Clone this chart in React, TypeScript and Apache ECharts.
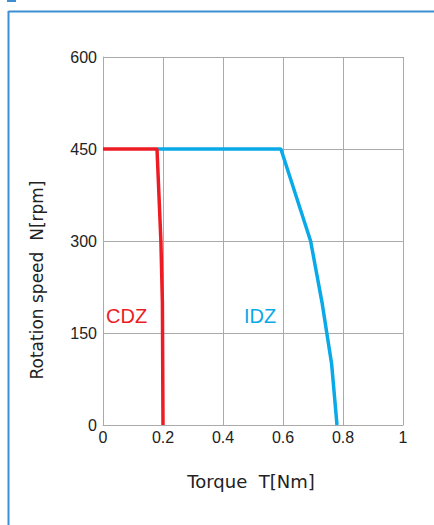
import React, { useEffect, useRef } from "react";
import * as echarts from "echarts";

const xTicks = [0, 0.2, 0.4, 0.6, 0.8, 1];
const yTicks = [0, 150, 300, 450, 600];
const cdzTorque = [0, 0.18, 0.193, 0.198, 0.2];
const cdzSpeed = [450, 450, 300, 200, 0];
const idzTorque = [0.18, 0.593, 0.692, 0.73, 0.762, 0.78];
const idzSpeed = [450, 450, 300, 200, 100, 0];
const seriesNames = ["CDZ", "IDZ"];

export default function App() {
  const ref = useRef<HTMLDivElement>(null);
  useEffect(() => {
    document.body.style.margin = "0";
    const chart = echarts.init(ref.current!, null, { renderer: "svg" });
    const red = "#ed1c24";
    const blue = "#0aa9e8";
    const grey = "#aaaaaa";
    const tickFont = "'Liberation Sans', Arial, sans-serif";
    const nameFont = "'DejaVu Sans', sans-serif";
    chart.setOption({
      animation: false,
      backgroundColor: "#ffffff",
      grid: { left: 103, top: 57, width: 300, height: 368, containLabel: false },
      xAxis: {
        type: "value",
        min: xTicks[0],
        max: xTicks[xTicks.length - 1],
        interval: 0.2,
        axisLine: { show: true, lineStyle: { color: grey, width: 1 } },
        axisTick: { show: false },
        splitLine: { show: true, lineStyle: { color: grey, width: 1 } },
        axisLabel: {
          color: "#222",
          fontSize: 16,
          fontFamily: tickFont,
          margin: 4,
          formatter: (v: number) => String(Math.round(v * 10) / 10),
        },
      },
      yAxis: {
        type: "value",
        min: yTicks[0],
        max: yTicks[yTicks.length - 1],
        interval: 150,
        axisLine: { show: true, lineStyle: { color: grey, width: 1 } },
        axisTick: { show: false },
        splitLine: { show: true, lineStyle: { color: grey, width: 1 } },
        axisLabel: {
          color: "#222",
          fontSize: 16,
          fontFamily: tickFont,
          margin: 6,
          verticalAlign: "middle",
        },
      },
      series: [
        {
          name: seriesNames[1],
          type: "line",
          data: idzTorque.map((t, i) => [t, idzSpeed[i]]),
          showSymbol: false,
          lineStyle: { color: blue, width: 3.5 },
          z: 2,
        },
        {
          name: seriesNames[0],
          type: "line",
          data: cdzTorque.map((t, i) => [t, cdzSpeed[i]]),
          showSymbol: false,
          lineStyle: { color: red, width: 3.5 },
          z: 3,
        },
      ],
      graphic: [
        { type: "rect", shape: { x: 7, y: 0, width: 9, height: 2 }, style: { fill: "#3d8fd1" } },
        { type: "line", shape: { x1: 8.5, y1: 11.5, x2: 434, y2: 11.5 }, style: { stroke: "#3d8fd1", lineWidth: 2 } },
        { type: "line", shape: { x1: 8.5, y1: 11, x2: 8.5, y2: 525 }, style: { stroke: "#3d8fd1", lineWidth: 2 } },
        {
          type: "text",
          x: 106,
          y: 316,
          style: { text: seriesNames[0], fill: red, fontSize: 20, fontFamily: tickFont, verticalAlign: "middle" },
        },
        {
          type: "text",
          x: 244,
          y: 316,
          style: { text: seriesNames[1], fill: blue, fontSize: 20, fontFamily: tickFont, verticalAlign: "middle" },
        },
        {
          type: "text",
          x: 251,
          y: 481,
          style: {
            text: "Torque  T[Nm]",
            fill: "#222",
            fontSize: 18,
            fontFamily: nameFont,
            align: "center",
            verticalAlign: "middle",
          },
        },
        {
          type: "text",
          x: 37,
          y: 280,
          rotation: Math.PI / 2,
          style: {
            text: "Rotation speed  N[rpm]",
            fill: "#222",
            fontSize: 17,
            fontFamily: nameFont,
            align: "center",
            verticalAlign: "middle",
          },
        },
      ],
    });
    return () => chart.dispose();
  }, []);
  return <div ref={ref} style={{ width: 434, height: 525 }} />;
}
